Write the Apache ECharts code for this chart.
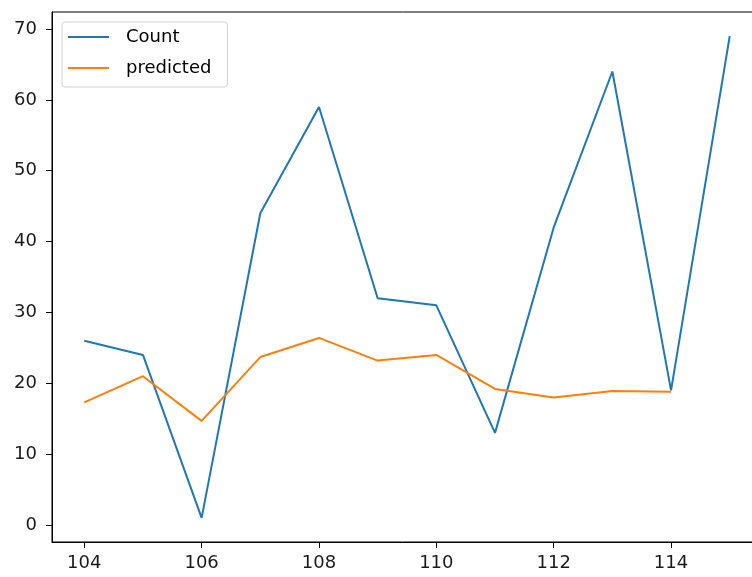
<!DOCTYPE html>
<html>
<head>
<meta charset="utf-8">
<script src="https://cdn.jsdelivr.net/npm/echarts@6/dist/echarts.min.js"></script>
<style>
  html, body { margin: 0; padding: 0; background: #fff; }
  #chart { width: 752px; height: 577px; }
</style>
</head>
<body>
<div id="chart"></div>
<script>
// x positions and values
const xs = [104, 105, 106, 107, 108, 109, 110, 111, 112, 113, 114, 115];
const countVals = [26, 24, 1, 44, 59, 32, 31, 13, 42, 64, 19, 69];
const predictedVals = [17.3, 21.0, 14.7, 23.7, 26.4, 23.2, 24.0, 19.2, 18.0, 18.9, 18.8];
const xTicks = [104, 106, 108, 110, 112, 114];
const yTicks = [0, 10, 20, 30, 40, 50, 60, 70];

const chart = echarts.init(document.getElementById('chart'));

const pairs = (vals) => vals.map((v, i) => [xs[i], v]);

const tickFont = { fontFamily: 'DejaVu Sans', fontSize: 18, color: '#1a1a1a' };

chart.setOption({
  animation: false,
  grid: {
    left: 52, top: 12, width: 710, height: 530,
    outerBoundsMode: 'none',
    containLabel: false,
    show: true, borderColor: '#000', borderWidth: 1, backgroundColor: 'transparent'
  },
  legend: {
    orient: 'vertical',
    left: 62, top: 22,
    padding: [6, 16, 10, 6],
    itemWidth: 41, itemHeight: 2, itemGap: 13,
    icon: 'rect',
    backgroundColor: 'rgba(255,255,255,0.8)',
    borderColor: '#d0d0d0', borderWidth: 1, borderRadius: 3,
    textStyle: { fontFamily: 'DejaVu Sans', fontSize: 18, color: '#000', lineHeight: 18, padding: [0, 0, 0, 12] },
    data: ['Count', 'predicted']
  },
  xAxis: {
    type: 'value',
    min: 103.45, max: 115.55,
    axisLine: { show: true, onZero: false, lineStyle: { color: '#000', width: 1 } },
    axisTick: { show: true, inside: false, length: 6, lineStyle: { color: '#000' }, customValues: xTicks },
    axisLabel: Object.assign({ margin: 12, customValues: xTicks }, tickFont),
    splitLine: { show: false }
  },
  yAxis: {
    type: 'value',
    min: -2.4, max: 72.4,
    axisLine: { show: true, onZero: false, lineStyle: { color: '#000', width: 1 } },
    axisTick: { show: true, inside: false, length: 6, lineStyle: { color: '#000' }, customValues: yTicks },
    axisLabel: Object.assign({ margin: 15, customValues: yTicks }, tickFont),
    splitLine: { show: false }
  },
  series: [
    {
      name: 'Count',
      type: 'line',
      data: pairs(countVals),
      symbol: 'none',
      color: '#1f77b4',
      lineStyle: { width: 2, color: '#1f77b4' }
    },
    {
      name: 'predicted',
      type: 'line',
      data: pairs(predictedVals),
      symbol: 'none',
      color: '#ff7f0e',
      lineStyle: { width: 2, color: '#ff7f0e' }
    }
  ]
});
</script>
</body>
</html>
